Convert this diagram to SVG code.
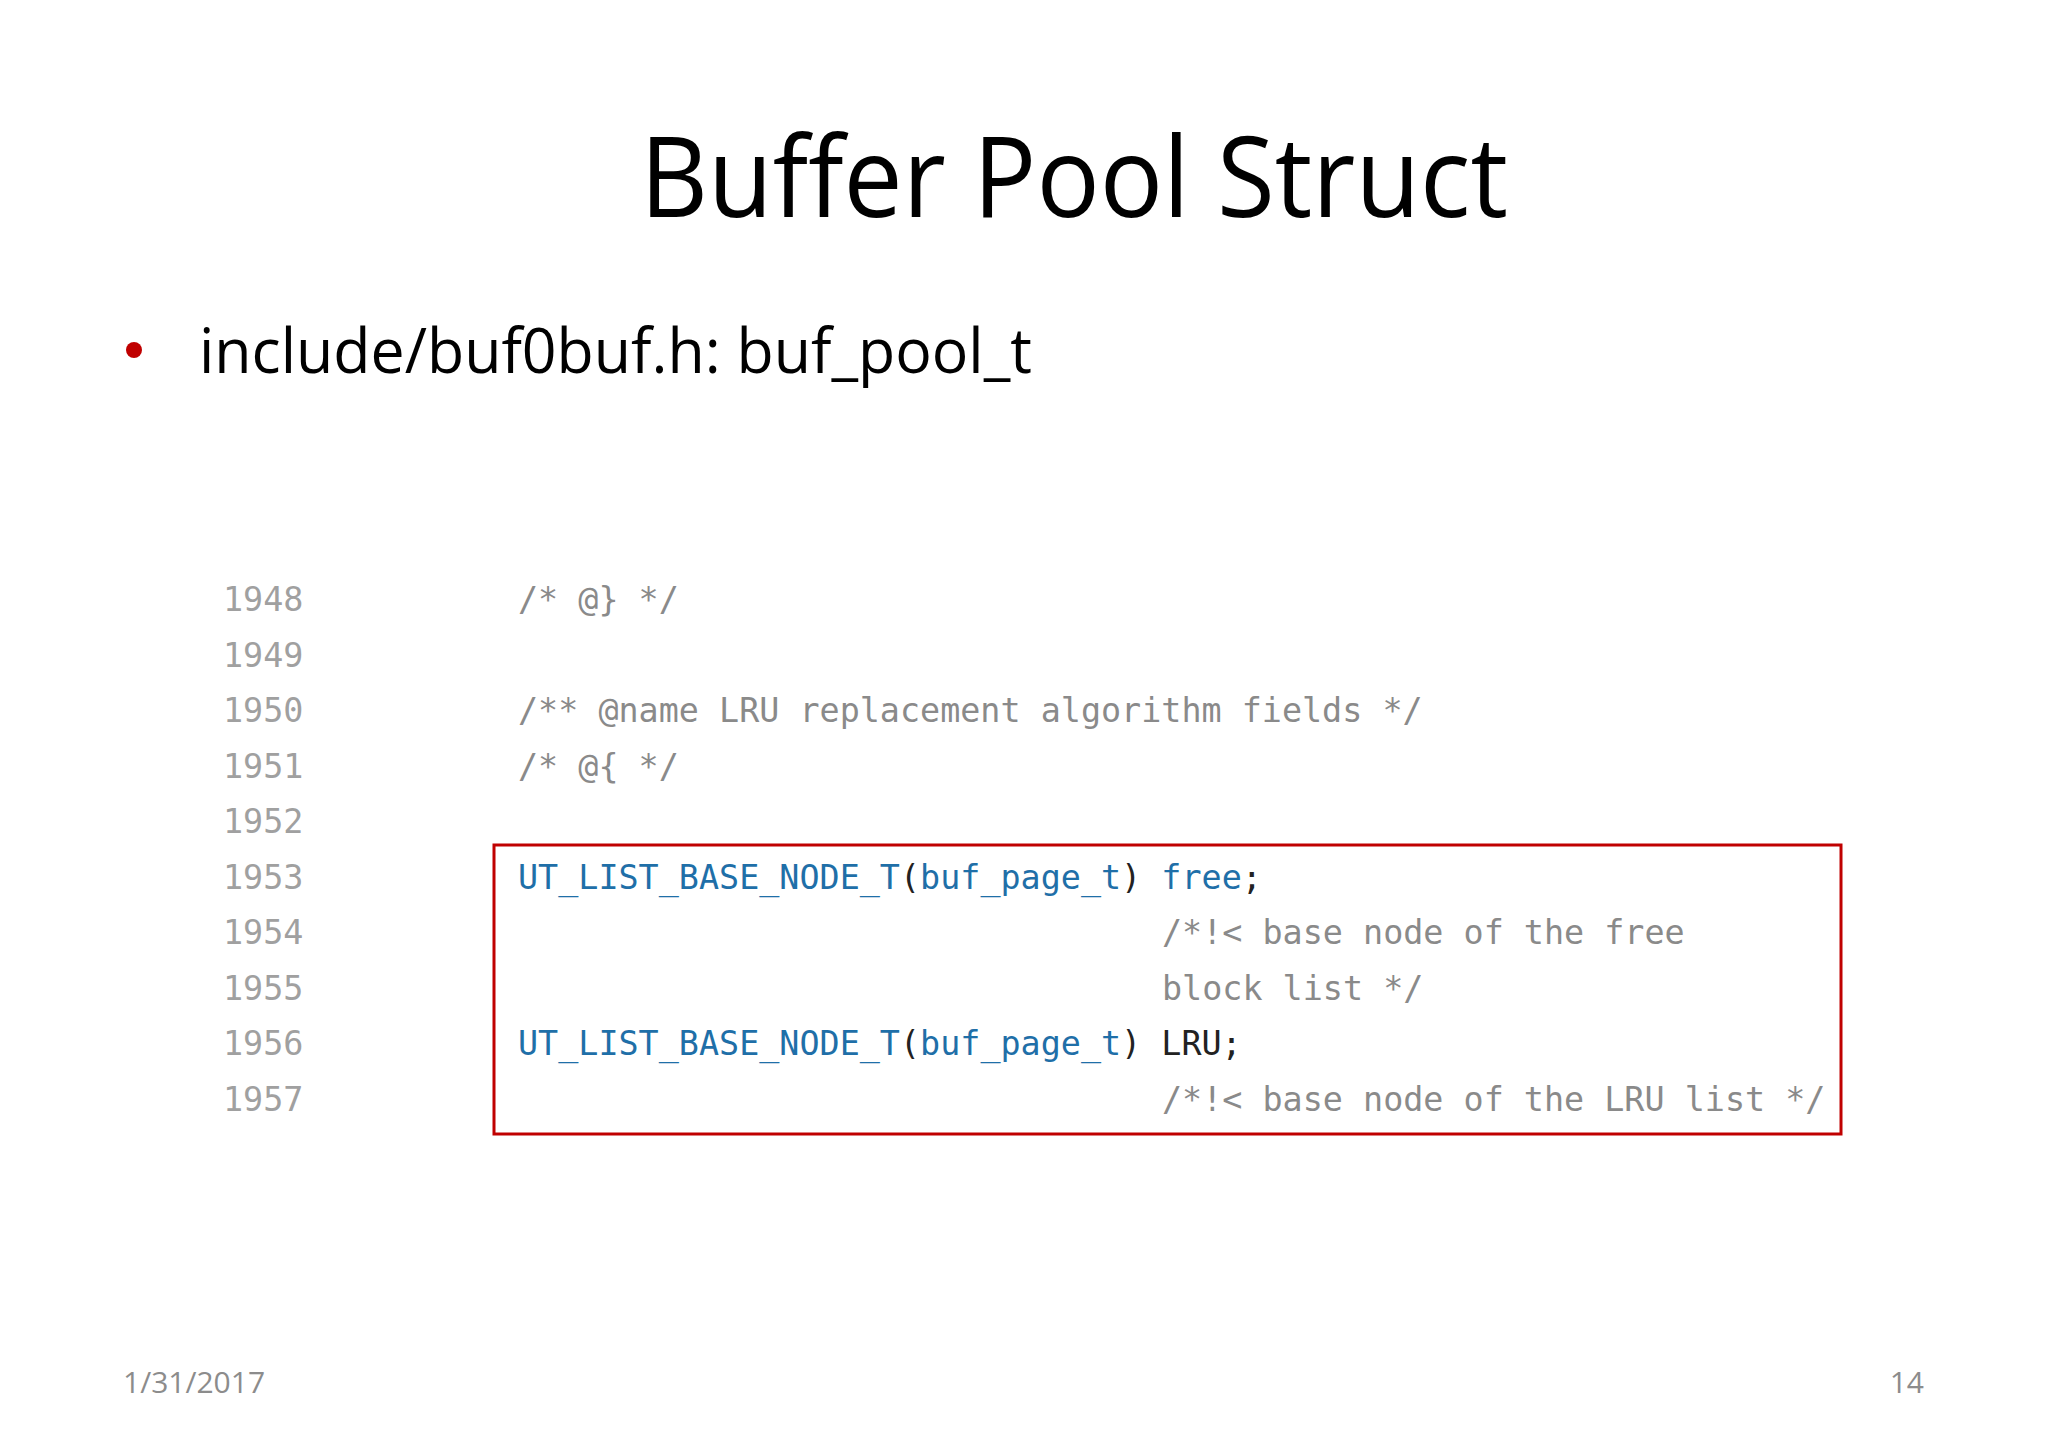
<svg xmlns="http://www.w3.org/2000/svg" width="2048" height="1448" viewBox="0 0 2048 1448">
<style>
.t{font-family:"Open Sans","Liberation Sans",sans-serif;fill:#000}
.m{font-family:"DejaVu Sans Mono","Liberation Mono",monospace;font-size:33.4px}
.n{fill:#a0a0a0}
.c{fill:#8a8a8a}
.k{fill:#1f6fa8}
.p{fill:#222}
.f{font-family:"Open Sans","Liberation Sans",sans-serif;font-size:30px;fill:#8c8c8c}
</style>
<rect width="2048" height="1448" fill="#fff"/>
<text class="t" x="1074" y="217" font-size="112" text-anchor="middle" textLength="868" lengthAdjust="spacingAndGlyphs">Buffer Pool Struct</text>
<circle cx="134" cy="350" r="8" fill="#c00000"/>
<text class="t" x="199" y="373" font-size="62" textLength="833" lengthAdjust="spacingAndGlyphs">include/buf0buf.h: buf_pool_t</text>
<g class="m">
<text class="n" x="223" y="611">1948</text>
<text class="n" x="223" y="667">1949</text>
<text class="n" x="223" y="722">1950</text>
<text class="n" x="223" y="778">1951</text>
<text class="n" x="223" y="833">1952</text>
<text class="n" x="223" y="889">1953</text>
<text class="n" x="223" y="944">1954</text>
<text class="n" x="223" y="1000">1955</text>
<text class="n" x="223" y="1055">1956</text>
<text class="n" x="223" y="1111">1957</text>
<text class="c" x="518" y="611">/* @} */</text>
<text class="c" x="518" y="722">/** @name LRU replacement algorithm fields */</text>
<text class="c" x="518" y="778">/* @{ */</text>
<text x="518" y="889"><tspan class="k">UT_LIST_BASE_NODE_T</tspan><tspan class="p">(</tspan><tspan class="k">buf_page_t</tspan><tspan class="p">) </tspan><tspan class="k">free</tspan><tspan class="p">;</tspan></text>
<text class="c" x="1162" y="944">/*!&lt; base node of the free</text>
<text class="c" x="1162" y="1000">block list */</text>
<text x="518" y="1055"><tspan class="k">UT_LIST_BASE_NODE_T</tspan><tspan class="p">(</tspan><tspan class="k">buf_page_t</tspan><tspan class="p">) LRU;</tspan></text>
<text class="c" x="1162" y="1111">/*!&lt; base node of the LRU list */</text>
</g>
<rect x="494" y="845" width="1347" height="289" fill="none" stroke="#c00000" stroke-width="3"/>
<text class="f" x="123" y="1393">1/31/2017</text>
<text class="f" x="1924" y="1393" text-anchor="end">14</text>
</svg>
